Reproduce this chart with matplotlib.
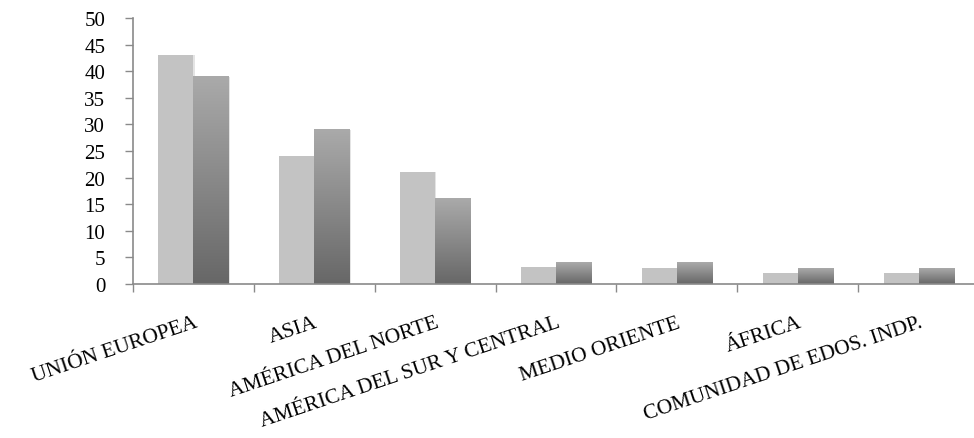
import numpy as np
import matplotlib.pyplot as plt
from matplotlib.colors import LinearSegmentedColormap
from matplotlib.patches import Rectangle

# regions and the two series of values
regions = ['UNIÓN EUROPEA', 'ASIA', 'AMÉRICA DEL NORTE',
           'AMÉRICA DEL SUR Y CENTRAL', 'MEDIO ORIENTE', 'ÁFRICA',
           'COMUNIDAD DE EDOS. INDP.']
serie_a = [43, 24, 21, 3.2, 3, 2, 2]
serie_b = [39, 29, 16, 4, 4, 3, 3]

plt.rcParams['font.family'] = 'Liberation Serif'

fig = plt.figure(figsize=(9.74, 4.39), dpi=100)
ax = fig.add_axes([0.1366, 0.3508, 0.8686, 0.6059])

x = np.arange(len(regions))
w = 0.29
grad = LinearSegmentedColormap.from_list('gris', ['#676767', '#aaaaaa'])
ramp = np.linspace(0, 1, 256).reshape(-1, 1)

# faint shadow on the right side of each bar
for xi, a, b in zip(x, serie_a, serie_b):
    for off, h in ((-w / 2, a), (w / 2, b)):
        ax.add_patch(Rectangle((xi + off - w / 2 + 0.01, 0), w, h,
                               color='#e4e4e4', lw=0, zorder=1))

# light series: flat gray
ax.bar(x - w / 2, serie_a, width=w, color='#c3c3c3', lw=0, zorder=2)

# dark series: vertical gradient per bar
for xi, b in zip(x, serie_b):
    ax.imshow(ramp, cmap=grad, origin='lower', aspect='auto',
              extent=(xi, xi + w, 0, b), zorder=2, interpolation='bilinear')

ax.set_xlim(-0.5, len(regions) - 0.5)
ax.set_ylim(0, 50)
ax.set_yticks(range(0, 51, 5))

ax.set_xticks(x)
ax.set_xticks(np.arange(-0.5, len(regions), 1), minor=True)
ax.set_xticklabels(regions, rotation=18.5, ha='right', va='top',
                   rotation_mode='anchor', fontsize=15.5)
ax.tick_params(axis='x', which='major', length=0, pad=21)
ax.tick_params(axis='x', which='minor', length=6, width=1, color='#8a8a8a')
ax.tick_params(axis='y', length=6, width=1, color='#8a8a8a',
               labelsize=15, pad=14)

for s in ('top', 'right'):
    ax.spines[s].set_visible(False)
for s in ('left', 'bottom'):
    ax.spines[s].set_color('#8a8a8a')
    ax.spines[s].set_linewidth(1.2)

fig.savefig('out.png', dpi=100)
